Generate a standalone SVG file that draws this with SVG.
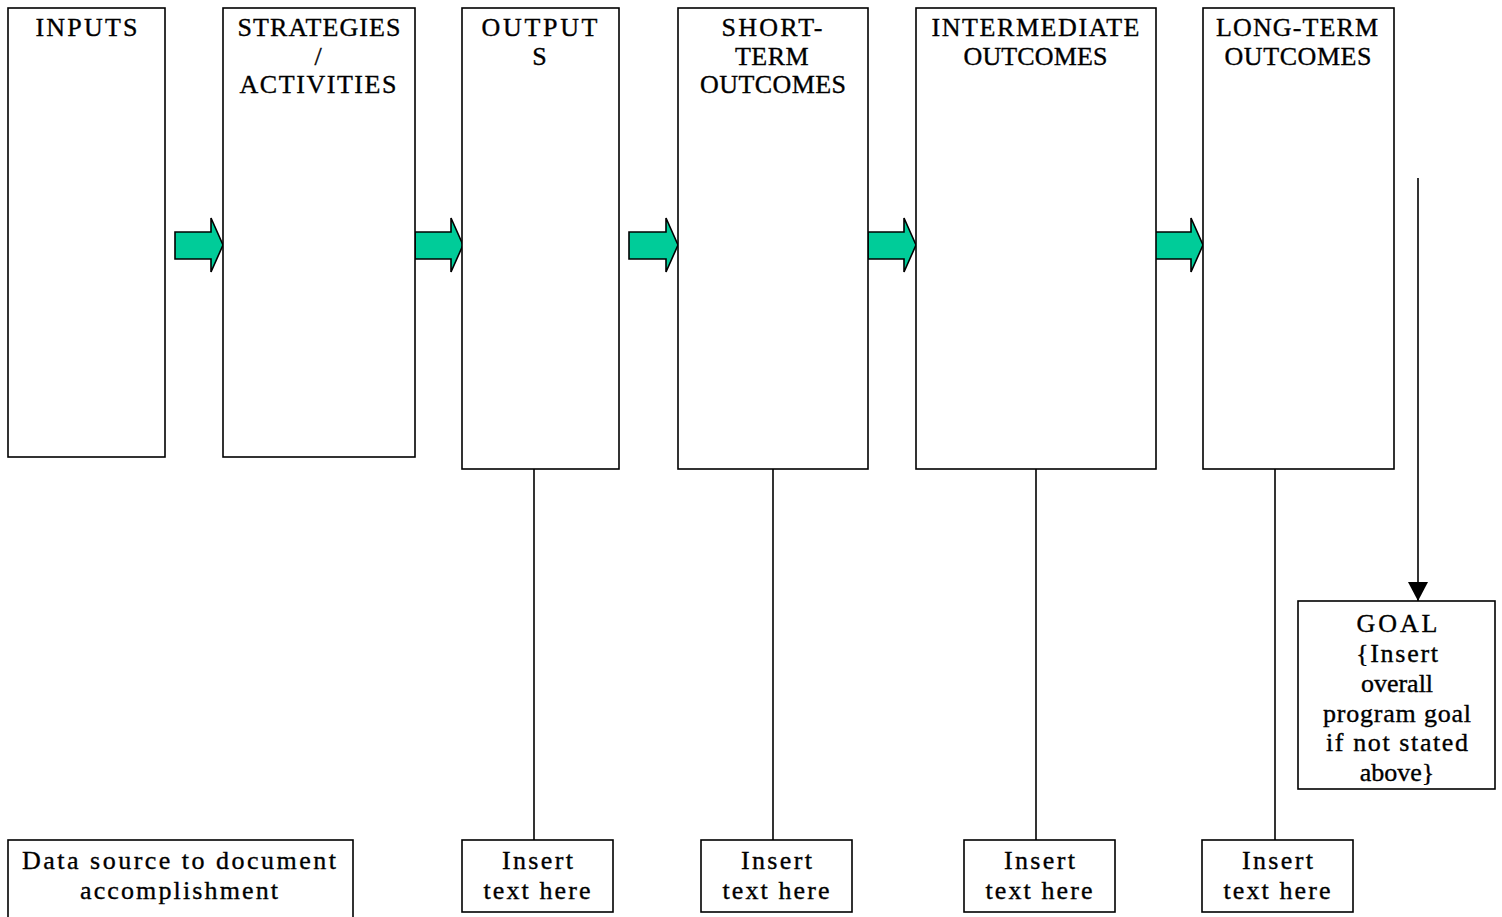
<svg xmlns="http://www.w3.org/2000/svg" width="1502" height="917" viewBox="0 0 1502 917">
  <defs>
    <style>
      .box { fill: #ffffff; stroke: #000000; stroke-width: 1.6; }
      .hd { font-family: "Liberation Serif", "DejaVu Serif", serif; font-size: 26px; fill: #000000; stroke: #000000; stroke-width: 0.35; text-anchor: middle; }
      .tx { font-family: "Liberation Serif", "DejaVu Serif", serif; font-size: 26px; fill: #000000; stroke: #000000; stroke-width: 0.35; text-anchor: middle; }
      .blk { fill: #00CC99; stroke: #000000; stroke-width: 1.6; stroke-linejoin: miter; }
      .ln { fill: none; stroke: #000000; stroke-width: 1.6; }
    </style>
    <marker id="ah" markerUnits="userSpaceOnUse" markerWidth="22" markerHeight="22" refX="19" refY="10" orient="auto">
      <path d="M0,0 L19,10 L0,20 Z" fill="#000000"/>
    </marker>
  </defs>
  <rect width="1502" height="917" fill="#ffffff"/>

  <g id="connectors">
    <polygon class="blk" points="175,232 211,232 211,218 223,245 211,272 211,259 175,259"/>
    <polygon class="blk" points="415,232 451,232 451,218 463,245 451,272 451,259 415,259"/>
    <polygon class="blk" points="629,232 666,232 666,218 678,245 666,272 666,259 629,259"/>
    <polygon class="blk" points="868,232 904,232 904,218 916,245 904,272 904,259 868,259"/>
    <polygon class="blk" points="1155,232 1191,232 1191,218 1203,245 1191,272 1191,259 1155,259"/>
    <line class="ln" x1="534" y1="469" x2="534" y2="840"/>
    <line class="ln" x1="773" y1="469" x2="773" y2="840"/>
    <line class="ln" x1="1036" y1="469" x2="1036" y2="840"/>
    <line class="ln" x1="1275" y1="469" x2="1275" y2="840"/>
    <line class="ln" x1="1418" y1="178" x2="1418" y2="601" marker-end="url(#ah)"/>
  </g>

  <g id="inputs">
    <rect class="box" x="8" y="8" width="157" height="449"/>
    <text class="hd" x="86.5" y="36" textLength="102" lengthAdjust="spacing">INPUTS</text>
  </g>
  <g id="strategies">
    <rect class="box" x="223" y="8" width="192" height="449"/>
    <text class="hd" x="319" y="36" textLength="163" lengthAdjust="spacing">STRATEGIES</text>
    <text class="hd" x="318" y="64.5">/</text>
    <text class="hd" x="318" y="93" textLength="157" lengthAdjust="spacing">ACTIVITIES</text>
  </g>
  <g id="outputs">
    <rect class="box" x="462" y="8" width="157" height="461"/>
    <text class="hd" x="539.5" y="36" textLength="116" lengthAdjust="spacing">OUTPUT</text>
    <text class="hd" x="539.5" y="64.5">S</text>
  </g>
  <g id="short-term">
    <rect class="box" x="678" y="8" width="190" height="461"/>
    <text class="hd" x="772" y="36" textLength="101" lengthAdjust="spacing">SHORT-</text>
    <text class="hd" x="772" y="64.5" letter-spacing="0.5">TERM</text>
    <text class="hd" x="773" y="93" textLength="146" lengthAdjust="spacing">OUTCOMES</text>
  </g>
  <g id="intermediate">
    <rect class="box" x="916" y="8" width="240" height="461"/>
    <text class="hd" x="1035.5" y="36" textLength="208" lengthAdjust="spacing">INTERMEDIATE</text>
    <text class="hd" x="1035.5" y="64.5" textLength="144" lengthAdjust="spacing">OUTCOMES</text>
  </g>
  <g id="long-term">
    <rect class="box" x="1203" y="8" width="191" height="461"/>
    <text class="hd" x="1297" y="36" textLength="162" lengthAdjust="spacing">LONG-TERM</text>
    <text class="hd" x="1298" y="64.5" textLength="147" lengthAdjust="spacing">OUTCOMES</text>
  </g>

  <g id="goal">
    <rect class="box" x="1298" y="601" width="197" height="188"/>
    <text class="tx" x="1397" y="632" textLength="81" lengthAdjust="spacing">GOAL</text>
    <text class="tx" x="1397" y="662" textLength="82" lengthAdjust="spacing">{Insert</text>
    <text class="tx" x="1397" y="692">overall</text>
    <text class="tx" x="1397" y="721.5" textLength="148" lengthAdjust="spacing">program goal</text>
    <text class="tx" x="1397" y="751" textLength="142" lengthAdjust="spacing">if not stated</text>
    <text class="tx" x="1397" y="781">above}</text>
  </g>

  <g id="data-source">
    <rect class="box" x="8" y="840" width="345" height="100"/>
    <text class="tx" x="179" y="869" textLength="314" lengthAdjust="spacing">Data source to document</text>
    <text class="tx" x="179" y="899" textLength="198" lengthAdjust="spacing">accomplishment</text>
  </g>
  <g id="insert-outputs">
    <rect class="box" x="462" y="840" width="151" height="72"/>
    <text class="tx" x="537.5" y="869" textLength="71" lengthAdjust="spacing">Insert</text>
    <text class="tx" x="537" y="898.5" textLength="107" lengthAdjust="spacing">text here</text>
  </g>
  <g id="insert-short">
    <rect class="box" x="701" y="840" width="151" height="72"/>
    <text class="tx" x="776.5" y="869" textLength="71" lengthAdjust="spacing">Insert</text>
    <text class="tx" x="776" y="898.5" textLength="107" lengthAdjust="spacing">text here</text>
  </g>
  <g id="insert-intermediate">
    <rect class="box" x="964" y="840" width="151" height="72"/>
    <text class="tx" x="1039.5" y="869" textLength="71" lengthAdjust="spacing">Insert</text>
    <text class="tx" x="1039" y="898.5" textLength="107" lengthAdjust="spacing">text here</text>
  </g>
  <g id="insert-long">
    <rect class="box" x="1202" y="840" width="151" height="72"/>
    <text class="tx" x="1277.5" y="869" textLength="71" lengthAdjust="spacing">Insert</text>
    <text class="tx" x="1277" y="898.5" textLength="107" lengthAdjust="spacing">text here</text>
  </g>
</svg>
